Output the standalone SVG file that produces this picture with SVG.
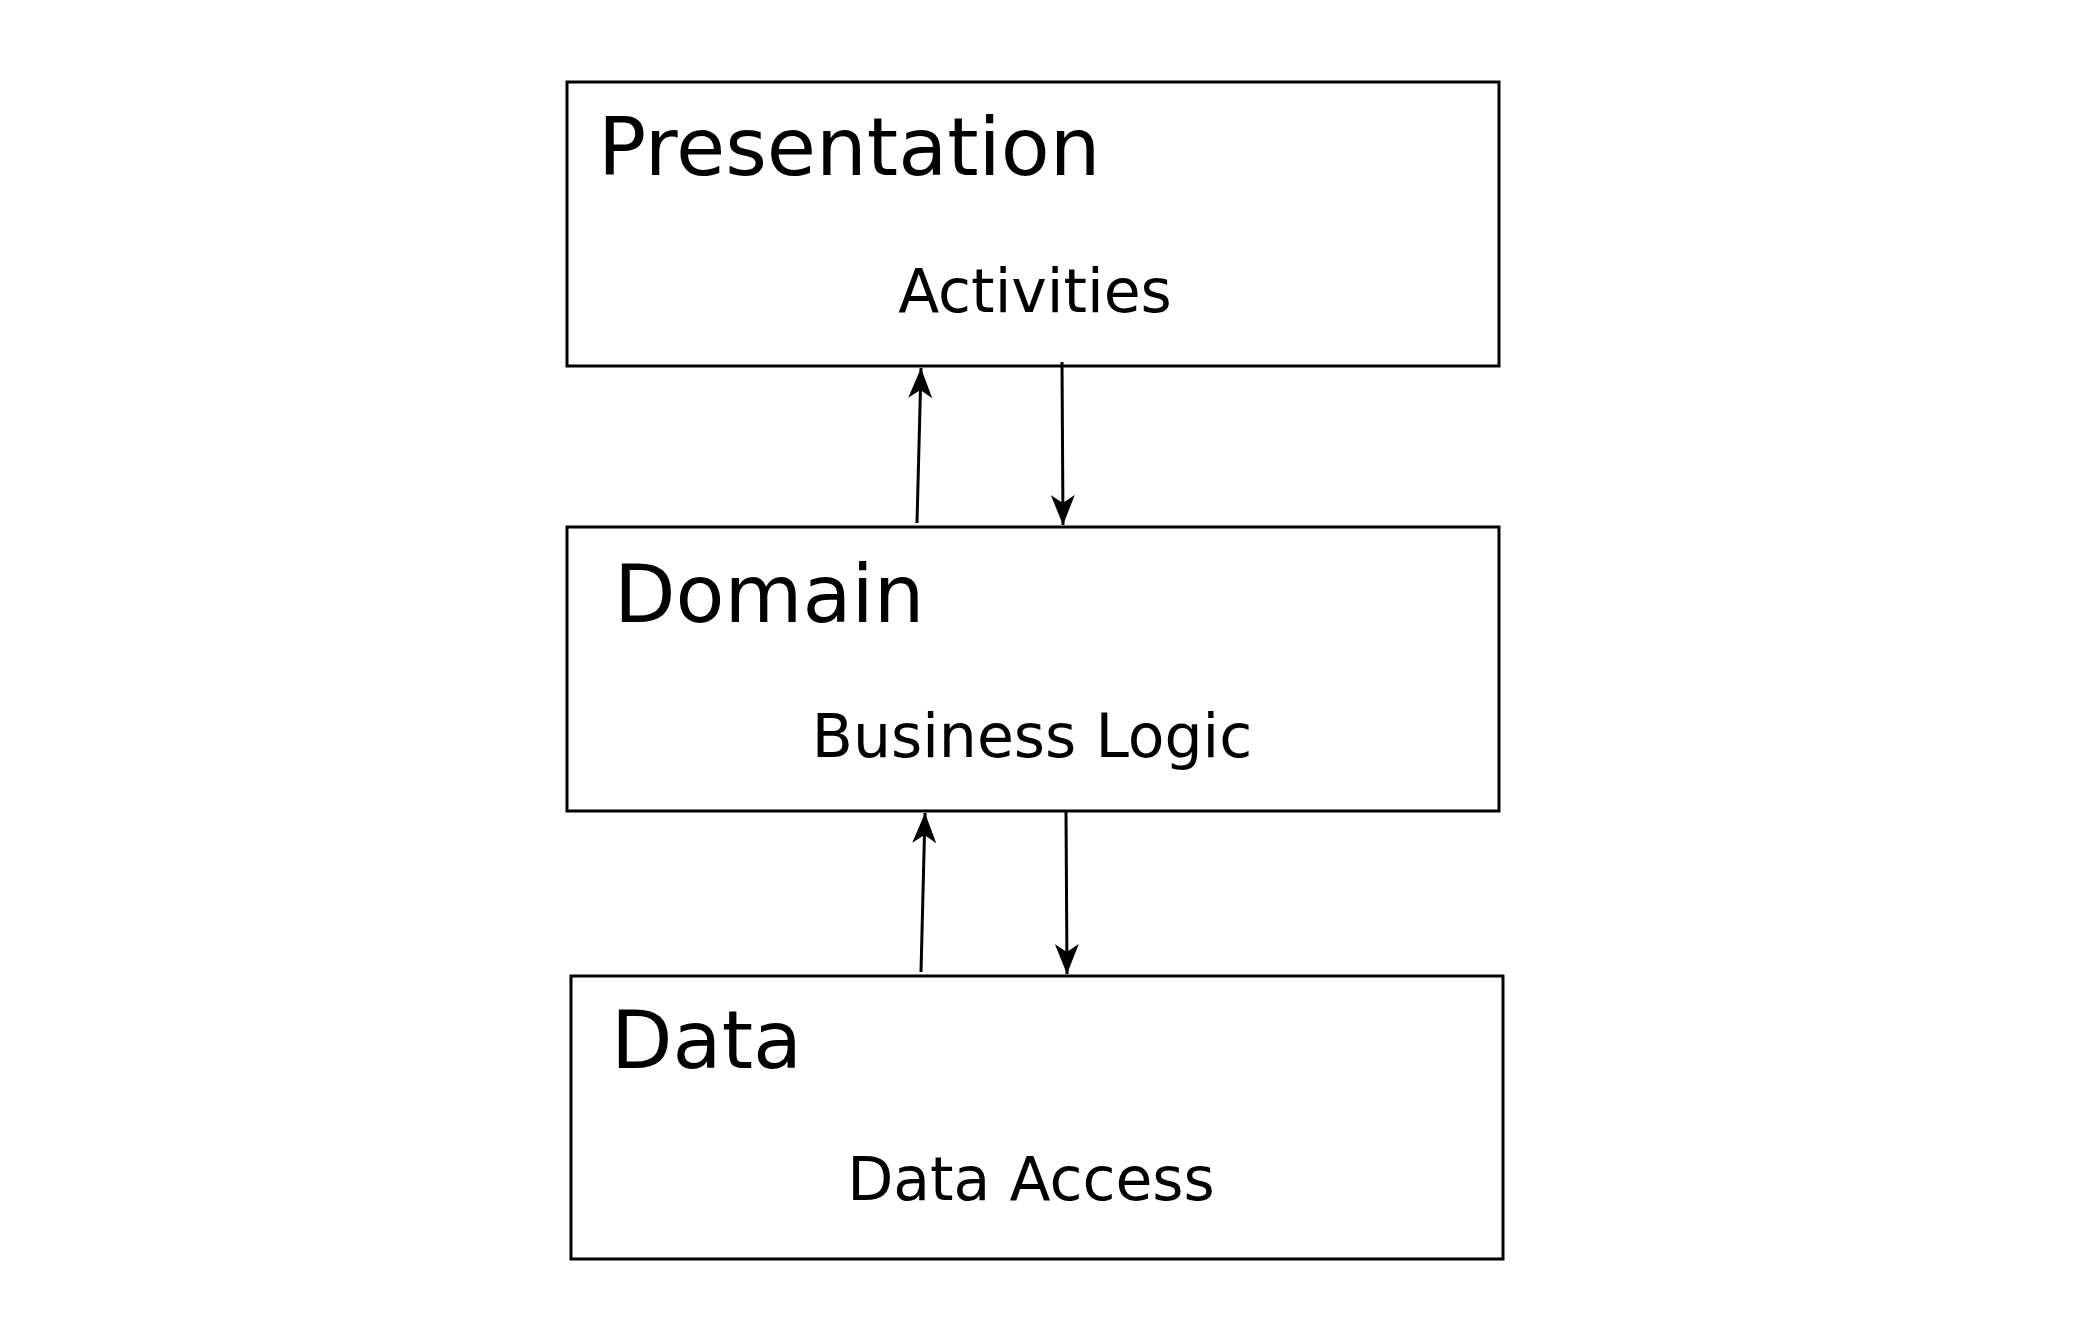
<svg xmlns="http://www.w3.org/2000/svg" width="2084" height="1324" viewBox="0 0 2084 1324">
<style>
.box{fill:#fff;stroke:#000;stroke-width:3}
.t{font-family:"DejaVu Sans",sans-serif;fill:#000}
.big{font-size:80px}
.sm{font-size:60px;text-anchor:middle}
.c{stroke:#000;stroke-width:3;fill:none;marker-end:url(#ah)}
</style>
<defs>
<marker id="ah" viewBox="0 0 30 24" refX="30" refY="12" markerWidth="30" markerHeight="24" markerUnits="userSpaceOnUse" orient="auto">
<path d="M0,0 L30,12 L0,24 L8,12 Z" fill="#000"/>
</marker>
</defs>
<rect width="2084" height="1324" fill="#fff"/>
<g id="presentation">
<rect class="box" x="567" y="82" width="932" height="284"/>
<text class="t big" x="598" y="175">Presentation</text>
<text class="t sm" x="1035" y="312">Activities</text>
</g>
<g id="domain">
<rect class="box" x="567" y="527" width="932" height="284"/>
<text class="t big" x="614" y="622">Domain</text>
<text class="t sm" x="1032" y="757">Business Logic</text>
</g>
<g id="data">
<rect class="box" x="571" y="976" width="932" height="283"/>
<text class="t big" x="611" y="1068">Data</text>
<text class="t sm" x="1031" y="1200">Data Access</text>
</g>
<g id="connectors">
<line class="c" x1="917" y1="523" x2="921" y2="368"/>
<line class="c" x1="1062" y1="362" x2="1063" y2="525"/>
<line class="c" x1="921" y1="972" x2="925" y2="813"/>
<line class="c" x1="1066" y1="812" x2="1067" y2="974"/>
</g>
</svg>
